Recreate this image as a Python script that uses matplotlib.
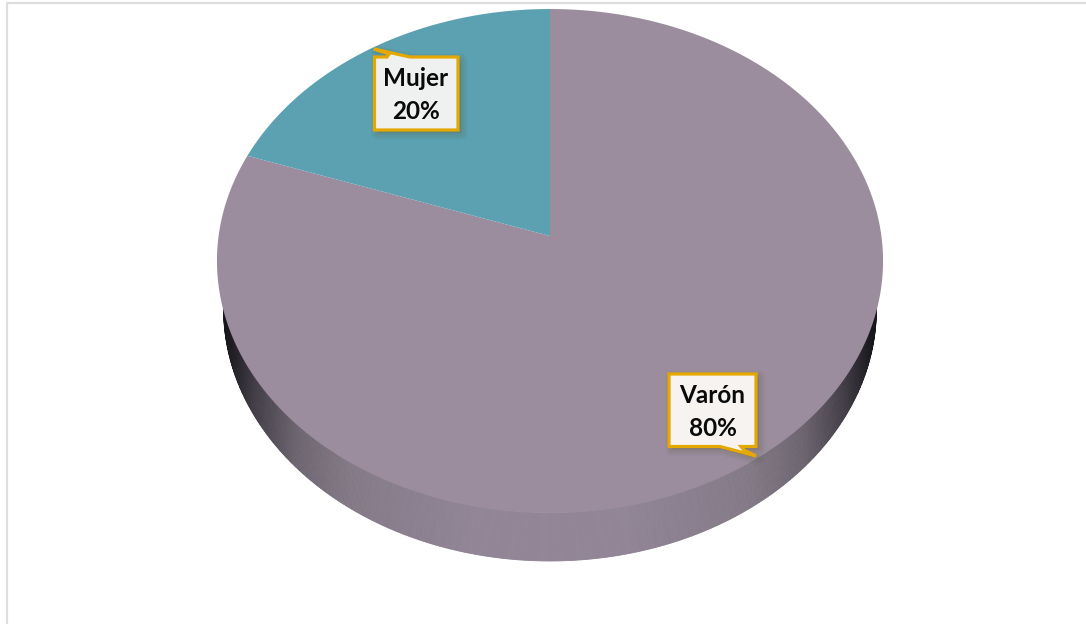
import numpy as np
import matplotlib
matplotlib.use("Agg")
import matplotlib.pyplot as plt
from matplotlib.colors import LinearSegmentedColormap
from matplotlib.patches import Polygon

categories = ["Varón", "Mujer"]
values = [80, 20]
slice_colors = ["#9B8D9E", "#5BA1B1"]

# pie geometry in image pixels
APEX = (550, 236)
WIDTH, HEIGHT = 1086, 624
SX, SY, K = 331.4, 249.5, 0.0992  # perspective of the tilted disc
WARP = 0.0415  # small angle correction for the 3d view
DEPTH = 48


def project(angle, drop=0.0, shrink=1.0):
    # angle counted counter clockwise from 12 o'clock
    a = angle - WARP * np.sin(2 * angle)
    u = -np.sin(a)
    v = np.cos(a)
    w = 1 + K * v
    return APEX[0] + shrink * SX * u / w, APEX[1] - SY * v / w + drop


def slice_outline(start, stop):
    a = np.linspace(start, stop, 300)
    x, y = project(a)
    return np.r_[APEX[0], x], np.r_[APEX[1], y]


fig = plt.figure(figsize=(WIDTH / 100, HEIGHT / 100), dpi=100)
ax = fig.add_axes([0, 0, 1, 1])
ax.set_xlim(0, WIDTH)
ax.set_ylim(HEIGHT, 0)
ax.axis("off")

# chart frame, only top and left show up in the crop
ax.plot([7, 7, WIDTH], [HEIGHT, 2.5, 2.5], color="#DEDEDE", lw=1.6)

# side wall, dark at both ends and body colour in front
wall = LinearSegmentedColormap.from_list(
    "wall",
    [(0.0, "#17161A"), (0.1, "#3E3A42"), (0.28, "#6C6570"), (0.5, "#847A87"), (1.0, "#918596")],
)
edge = np.linspace(np.pi / 2 + 0.1, 3 * np.pi / 2 - 0.1, 500)
for a0, a1 in zip(edge[:-1], edge[1:]):
    ang = np.array([a0, a1])
    # inner edge sits under the top face so no dark fringe shows on the rim
    xt, yt = project(ang, 0.0, 0.97)
    xb, yb = project(ang, DEPTH, 0.98)
    shade = np.clip(1 - abs(xb.mean() - APEX[0]) / 325, 0, 1) * 1.3
    ax.fill(
        np.r_[xt, xb[::-1]],
        np.r_[yt, yb[::-1]],
        color=wall(min(shade, 1.0)),
        lw=0.6,
    )

# top face, Mujer runs counter clockwise from 12 o'clock
mujer_stop = 2 * np.pi * values[1] / sum(values)
x, y = slice_outline(mujer_stop, 2 * np.pi)
ax.fill(x, y, color=slice_colors[0], lw=0)
x, y = slice_outline(0, mujer_stop)
ax.fill(x, y, color=slice_colors[1], lw=0)


def callout(pts, center, label, value, fill):
    # soft shadow from a few wide transparent strokes
    moved = [(px + 3, py + 3) for px, py in pts]
    for lw in (9, 6, 3):
        ax.add_patch(
            Polygon(moved, closed=True, fc="#5A5A3C", ec="#5A5A3C", alpha=0.07, lw=lw, joinstyle="round")
        )
    ax.add_patch(Polygon(pts, closed=True, fc=fill, ec="#E5A800", lw=2.3, joinstyle="miter"))
    ax.text(
        center[0],
        center[1],
        f"{label}\n{value}%",
        ha="center",
        va="center",
        family="Lato",
        weight="bold",
        fontsize=17.5,
        linespacing=1.55,
        color="#0A0A0A",
    )


mujer_box = [(374.5, 57), (387, 57), (389, 54), (374, 49), (410, 57), (458, 57), (458, 130), (374.5, 130)]
varon_box = [(669, 374), (756, 374), (756, 446.5), (741, 446.5), (744, 450), (756, 456), (720, 446.5), (669, 446.5)]
callout(mujer_box, (416, 95), categories[1], values[1], "#EFF1F0")
callout(varon_box, (712.5, 412), categories[0], values[0], "#F6F3F1")

fig.savefig("out.png", dpi=100)
